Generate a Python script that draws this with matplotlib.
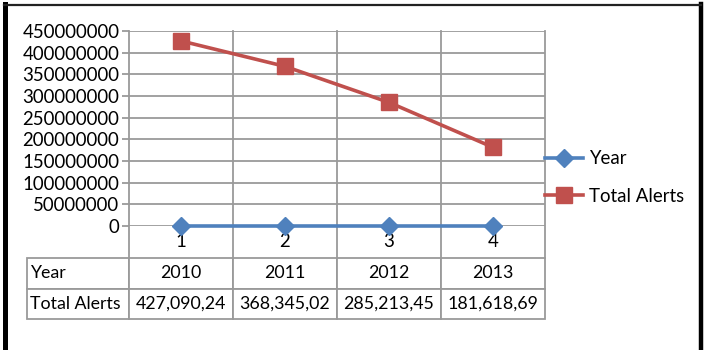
import matplotlib
matplotlib.use("Agg")
import matplotlib.pyplot as plt
from matplotlib.lines import Line2D
import matplotlib.transforms as mtransforms

categories = [1, 2, 3, 4]
years = [2010, 2011, 2012, 2013]
total_alerts = [427090240, 368345020, 285213450, 181618690]
table_year = ["2010", "2011", "2012", "2013"]
table_alerts = ["427,090,24", "368,345,02", "285,213,45", "181,618,69"]
yticks = [0, 50000000, 100000000, 150000000, 200000000, 250000000,
          300000000, 350000000, 400000000, 450000000]

W, H = 707, 350
plt.rcParams['font.family'] = ['Lato', 'DejaVu Sans']
FS = 13.4
TFS = 12.8
fig = plt.figure(figsize=(W / 100, H / 100), dpi=100)

def fx(px):
    return px / W

def fy(py):
    return 1 - py / H

# frame
fig.add_artist(Line2D([fx(4.5), fx(4.5)], [fy(4), fy(360)], color='black', lw=3.6, transform=fig.transFigure))
fig.add_artist(Line2D([fx(701), fx(701)], [fy(4), fy(360)], color='black', lw=3.2, transform=fig.transFigure))
fig.add_artist(Line2D([fx(4), fx(701)], [fy(5), fy(5)], color='#222222', lw=1.6, transform=fig.transFigure))

left, right, top, bottom = 129, 545, 31, 226
ax = fig.add_axes([fx(left), fy(bottom), fx(right - left), (bottom - top) / H])
ax.set_xlim(0.5, 4.5)
ax.set_ylim(0, 450000000)
for s in ax.spines.values():
    s.set_visible(False)

grid_c = '#9a9a9a'
ax.set_yticks(yticks)
ax.set_yticklabels([str(v) for v in yticks], fontsize=FS)
for v in yticks:
    ax.axhline(v, color=grid_c, lw=1.3, zorder=1)
ax.tick_params(axis='y', length=5, color=grid_c, width=1.3, pad=2)

ax.set_xticks(categories)
ax.set_xticklabels([str(c) for c in categories], fontsize=FS)
ax.tick_params(axis='x', length=0, pad=5)

axh = bottom - top
tbl_top = 258
tbl_bot = 319
trans = mtransforms.blended_transform_factory(ax.transData, ax.transAxes)
for xv in [0.5, 1.5, 2.5, 3.5, 4.5]:
    ax.plot([xv, xv], [-(tbl_top - bottom) / axh, 1], color=grid_c, lw=1.3,
            transform=trans, clip_on=False, zorder=1)

ax.plot(categories, years, color='#4F81BD', lw=2.6, marker='D', markersize=9,
        label='Year', zorder=3, clip_on=False)
ax.plot(categories, total_alerts, color='#C0504D', lw=2.6, marker='s', markersize=11,
        label='Total Alerts', zorder=4, clip_on=False)

# data table
tx0 = (27 - left) / (right - left)
tbl = ax.table(cellText=[["Year"] + table_year, ["Total Alerts"] + table_alerts],
               colWidths=[(left - 27) / (right - left)] + [0.25] * 4,
               bbox=[tx0, -(tbl_bot - bottom) / axh, 1 - tx0, (tbl_bot - tbl_top) / axh])
tbl.auto_set_font_size(False)
for (r, c), cell in tbl.get_celld().items():
    cell.set_edgecolor(grid_c)
    cell.set_linewidth(1.3)
    cell.get_text().set_fontsize(TFS)
    if c == 0:
        cell.get_text().set_ha('left')
        cell.PAD = 0.03
    else:
        cell.get_text().set_ha('center')

leg = fig.legend(loc='center left', bbox_to_anchor=(fx(545), fy(177.5)),
                 frameon=False, fontsize=FS, borderpad=0, borderaxespad=0,
                 handlelength=2.05, handletextpad=0.3, labelspacing=1.08)

fig.savefig('out.png', dpi=100)
